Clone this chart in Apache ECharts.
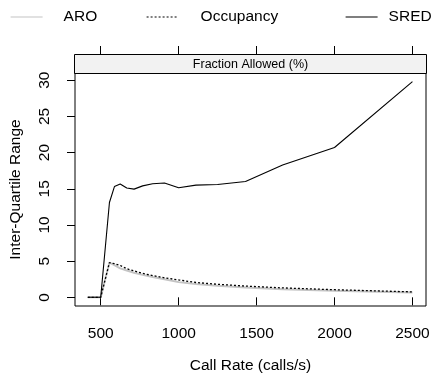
<!DOCTYPE html>
<html>
<head>
<meta charset="utf-8">
<script src="https://cdn.jsdelivr.net/npm/echarts@6/dist/echarts.min.js"></script>
<style>
  html, body { margin: 0; padding: 0; background: #fff; }
  #chart { width: 443px; height: 379px; }
</style>
</head>
<body>
<div id="chart"></div>
<script>
// data (x = call rate, y = inter-quartile range)
const callRate = [417, 500, 556, 588, 625, 667, 714, 769, 833, 909, 1000, 1111, 1250, 1429, 1667, 2000, 2500]
const aro = [0, 0, 4.8, 4.45, 4.0, 3.7, 3.4, 3.1, 2.8, 2.5, 2.1, 1.85, 1.6, 1.35, 1.1, 0.9, 0.68]
const occupancy = [0, 0, 4.8, 4.65, 4.4, 3.95, 3.65, 3.3, 3.0, 2.7, 2.4, 2.05, 1.8, 1.55, 1.3, 1.05, 0.75]
const sred = [0, 0, 13.1, 15.3, 15.65, 15.1, 14.95, 15.4, 15.7, 15.8, 15.15, 15.5, 15.6, 16.0, 18.3, 20.7, 29.8]
const xTicks = [500, 1000, 1500, 2000, 2500]
const yTicks = [0, 5, 10, 15, 20, 25, 30]

const font = 'Liberation Sans, Arial, Helvetica, sans-serif'
const pairs = ys => callRate.map((x, i) => [x, ys[i]])

const chart = echarts.init(document.getElementById('chart'))

// one legend per entry so each sits where the reference puts it
const legendItem = (id, name, left, gap) => ({
    id: id,
    left: left,
    top: 9,
    padding: 0,
    itemWidth: 32,
    itemHeight: 14,
    selectedMode: false,
    itemStyle: { opacity: 0 },
    lineStyle: { width: 1.2 },
    data: [name],
    textStyle: { fontFamily: font, fontSize: 15.5, color: '#000', padding: [0, 0, 0, gap] }
})

chart.setOption({
    animation: false,
    backgroundColor: '#fff',
    legend: [
        legendItem('lg1', 'ARO', 10, 16),
        legendItem('lg2', 'Occupancy', 146, 17),
        legendItem('lg3', 'SRED', 345, 6)
    ],
    grid: {
        left: 74,
        right: 17,
        top: 73,
        bottom: 70,
        show: true,
        borderColor: '#000',
        borderWidth: 1,
        backgroundColor: 'transparent'
    },
    // strip on top of the panel
    graphic: [{
        type: 'group',
        left: 74,
        top: 54,
        children: [{
            type: 'rect',
            shape: { x: 0, y: 0, width: 352, height: 19 },
            style: { fill: '#f2f2f2', stroke: '#000', lineWidth: 1 }
        }, {
            type: 'text',
            x: 176,
            y: 10,
            style: {
                text: 'Fraction Allowed (%)',
                fontFamily: font,
                fontSize: 12.5,
                fill: '#000',
                align: 'center',
                verticalAlign: 'middle'
            }
        }]
    }],
    xAxis: [{
        type: 'value',
        min: 335,
        max: 2587,
        name: 'Call Rate (calls/s)',
        nameLocation: 'middle',
        nameGap: 52,
        nameTextStyle: { fontFamily: font, fontSize: 15.5, color: '#000' },
        axisLine: { show: false },
        splitLine: { show: false },
        axisTick: {
            show: true,
            length: 8,
            customValues: xTicks,
            lineStyle: { color: '#000' }
        },
        axisLabel: {
            customValues: xTicks,
            formatter: v => String(v),
            margin: 20,
            fontFamily: font,
            fontSize: 15.5,
            color: '#000'
        }
    }, {
        type: 'value',
        position: 'top',
        offset: 19,
        min: 335,
        max: 2587,
        axisLine: { show: false },
        splitLine: { show: false },
        axisTick: {
            show: true,
            length: 8,
            customValues: xTicks,
            lineStyle: { color: '#000' }
        },
        axisLabel: { show: false }
    }],
    yAxis: {
        type: 'value',
        min: -1.2,
        max: 31,
        name: 'Inter-Quartile Range',
        nameLocation: 'middle',
        nameGap: 51,
        nameRotate: 90,
        nameTextStyle: { fontFamily: font, fontSize: 15.5, color: '#000' },
        axisLine: { show: false },
        splitLine: { show: false },
        axisTick: {
            show: true,
            length: 8,
            customValues: yTicks,
            lineStyle: { color: '#000' }
        },
        axisLabel: {
            customValues: yTicks,
            rotate: 90,
            align: 'center',
            verticalAlign: 'bottom',
            margin: 22,
            fontFamily: font,
            fontSize: 15.5,
            color: '#000'
        }
    },
    series: [{
        name: 'ARO',
        type: 'line',
        data: pairs(aro),
        symbol: 'none',
        color: '#c4c4c4',
        lineStyle: { color: '#c4c4c4', width: 2 }
    }, {
        name: 'Occupancy',
        type: 'line',
        data: pairs(occupancy),
        symbol: 'none',
        color: '#000',
        lineStyle: { color: '#000', width: 1.3, type: [2, 2] }
    }, {
        name: 'SRED',
        type: 'line',
        data: pairs(sred),
        symbol: 'none',
        color: '#000',
        lineStyle: { color: '#000', width: 1.1 }
    }]
})
</script>
</body>
</html>
